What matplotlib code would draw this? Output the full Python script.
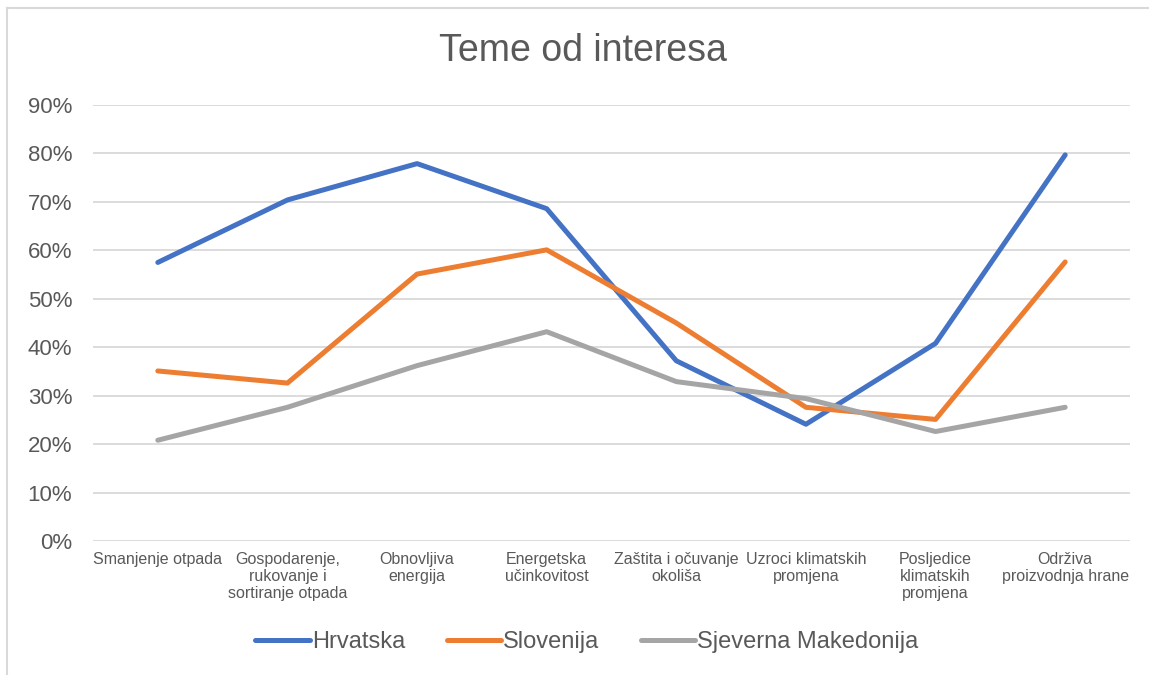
import matplotlib
matplotlib.use("Agg")
from matplotlib import pyplot as plt
from matplotlib.lines import Line2D
from matplotlib.ticker import PercentFormatter

plt.rcParams['font.family'] = ['Liberation Sans', 'DejaVu Sans']

categories = [
	"Smanjenje otpada",
	"Gospodarenje,\nrukovanje i\nsortiranje otpada",
	"Obnovljiva\nenergija",
	"Energetska\nučinkovitost",
	"Zaštita i očuvanje\nokoliša",
	"Uzroci klimatskih\npromjena",
	"Posljedice\nklimatskih\npromjena",
	"Održiva\nproizvodnja hrane",
]
hrvatska = [57.5, 70.4, 77.9, 68.6, 37.2, 24.1, 40.8, 79.7]
slovenija = [35.1, 32.6, 55.1, 60.1, 45.0, 27.6, 25.1, 57.6]
makedonija = [20.8, 27.6, 36.2, 43.2, 32.9, 29.4, 22.6, 27.6]

names = ["Hrvatska", "Slovenija", "Sjeverna Makedonija"]
colors = ["#4472C4", "#ED7D31", "#A5A5A5"]
grey = "#595959"

fig = plt.figure(figsize=(11.49, 6.75), dpi=100)
ax = fig.add_axes([93/1149, 1-541/675, (1130-93)/1149, (541-105)/675])

x = range(len(categories))
for vals, name, c in zip([hrvatska, slovenija, makedonija], names, colors):
	ax.plot(x, vals, color=c, lw=3.6, label=name, solid_capstyle='round', solid_joinstyle='round')

ax.set_xlim(-0.5, len(categories)-0.5)
ax.set_ylim(0, 90)
ax.set_yticks(range(0, 91, 10))
ax.yaxis.set_major_formatter(PercentFormatter(decimals=0))
ax.grid(axis='y', color='#d9d9d9', lw=1.3)
ax.set_axisbelow(True)
for s in ax.spines.values():
	s.set_visible(False)
ax.set_xticks(list(x))
ax.set_xticklabels(categories, fontsize=11.5, color=grey, linespacing=1.15)
ax.tick_params(axis='x', length=0, pad=8)
ax.tick_params(axis='y', length=0, pad=15, labelsize=16, labelcolor=grey)

fig.text(583/1149, 1-51/675, "Teme od interesa", ha='center', va='center', fontsize=27, color=grey)

leg = fig.legend(loc='center', bbox_to_anchor=(587/1149, 1-642/675), ncol=3, frameon=False,
	fontsize=17, handlelength=2.3, handletextpad=0.1, columnspacing=1.75)
for t in leg.get_texts():
	t.set_color(grey)

# chart border
fig.add_artist(Line2D([7/1149, 7/1149], [0, 1-8/675], color='#d9d9d9', lw=1.5, transform=fig.transFigure))
fig.add_artist(Line2D([7/1149, 1], [1-8/675, 1-8/675], color='#d9d9d9', lw=1.5, transform=fig.transFigure))

fig.savefig("out.png", dpi=100)
